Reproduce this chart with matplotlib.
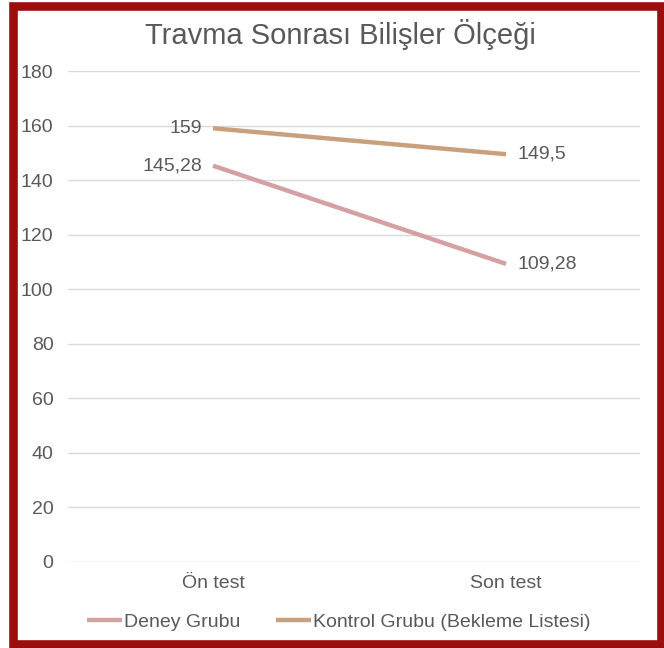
import matplotlib
matplotlib.use("Agg")
import matplotlib.pyplot as plt
from matplotlib.patches import Rectangle

# Data
categories = ["Ön test", "Son test"]
deney = [145.28, 109.28]
kontrol = [159, 149.5]
deney_labels = ["145,28", "109,28"]
kontrol_labels = ["159", "149,5"]
yticks = [0, 20, 40, 60, 80, 100, 120, 140, 160, 180]

TEXT = "#595959"
plt.rcParams["font.family"] = ["Liberation Sans", "DejaVu Sans"]

fig = plt.figure(figsize=(6.64, 6.48), dpi=100)
ax = fig.add_axes([68 / 664, 1 - 562 / 648, 572 / 664, 491 / 648])

x = list(range(len(categories)))
ax.plot(x, deney, color="#D4A1A3", linewidth=3.2, solid_capstyle="butt",
        label="Deney Grubu", zorder=3)
ax.plot(x, kontrol, color="#C9A07E", linewidth=3.2, solid_capstyle="butt",
        label="Kontrol Grubu (Bekleme Listesi)", zorder=3)

# value labels: left of first point, right of second point
for series, labels in [(deney, deney_labels), (kontrol, kontrol_labels)]:
    ax.annotate(labels[0], (x[0], series[0]), xytext=(-8, 0),
                textcoords="offset points", ha="right", va="center",
                fontsize=14, color=TEXT)
    ax.annotate(labels[1], (x[1], series[1]), xytext=(8, 0),
                textcoords="offset points", ha="left", va="center",
                fontsize=14, color=TEXT)

ax.set_xlim(-0.495, 1.457)
ax.set_ylim(0, 180)
ax.set_yticks(yticks)
ax.set_xticks(x)
ax.set_xticklabels(categories)
ax.tick_params(axis="both", length=0, labelsize=14, colors=TEXT)
ax.tick_params(axis="y", pad=10.5)
ax.tick_params(axis="x", pad=9)
ax.grid(axis="y", color="#D9D9D9", linewidth=1)
ax.set_axisbelow(True)
for s in ax.spines.values():
    s.set_visible(False)

fig.text(0.512, 1 - 35 / 648, "Travma Sonrası Bilişler Ölçeği",
         ha="center", va="center", fontsize=21, color=TEXT)

fig.legend(loc="center", bbox_to_anchor=(0.51, 1 - 622 / 648), ncol=2,
           frameon=False, fontsize=14, labelcolor=TEXT, handlelength=1.8,
           handletextpad=0.1, columnspacing=1.8)

# dark red frame
fig.patches.append(Rectangle((13 / 664, 4 / 648), 648 / 664, 638 / 648,
                             transform=fig.transFigure, fill=False,
                             edgecolor="#9B0E0E", linewidth=6.2))

fig.savefig("out.png", dpi=100)
